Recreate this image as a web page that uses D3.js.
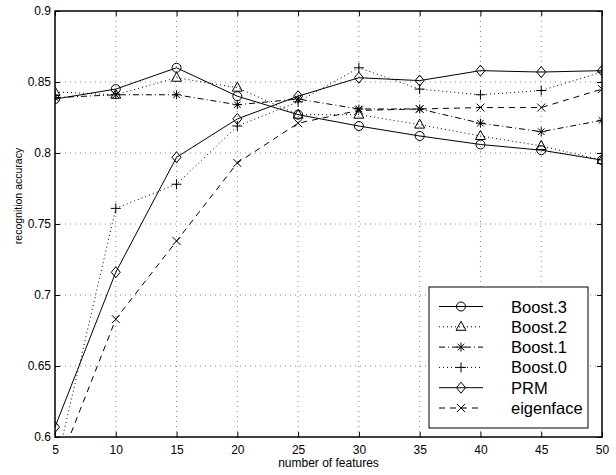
<!DOCTYPE html>
<html>
<head>
<meta charset="utf-8">
<script src="https://cdn.jsdelivr.net/npm/d3@7"></script>
<style>
  body { margin: 0; background: #fff; }
  svg text { font-family: "Liberation Sans", Arial, sans-serif; fill: #000; }
</style>
</head>
<body>
<svg class="svg" width="616" height="475"></svg>
<script>
// number of features
let features = [5, 10, 15, 20, 25, 30, 35, 40, 45, 50];

let boost3 = [0.838, 0.845, 0.860, 0.840, 0.827, 0.819, 0.812, 0.806, 0.802, 0.795];
let boost2 = [0.843, 0.841, 0.853, 0.846, 0.827, 0.827, 0.820, 0.812, 0.805, 0.795];
let boost1 = [0.839, 0.841, 0.841, 0.834, 0.838, 0.831, 0.831, 0.821, 0.815, 0.823];
let boost0 = [0.577, 0.761, 0.778, 0.819, 0.836, 0.860, 0.845, 0.841, 0.844, 0.857];
let prm = [0.607, 0.716, 0.797, 0.824, 0.840, 0.853, 0.851, 0.858, 0.857, 0.858];
let eigenface = [0.574, 0.683, 0.738, 0.793, 0.821, 0.830, 0.831, 0.832, 0.832, 0.845];

let seriesNames = ['Boost.3', 'Boost.2', 'Boost.1', 'Boost.0', 'PRM', 'eigenface'];
let seriesVals = [boost3, boost2, boost1, boost0, prm, eigenface];
let markers = ['circle', 'triangle', 'star', 'plus', 'diamond', 'cross'];
let dashes = [null, '1,3', '6,3,1,3', '1,3', null, '6,5'];

let xTicks = [5, 10, 15, 20, 25, 30, 35, 40, 45, 50];
let yTicks = [0.6, 0.65, 0.7, 0.75, 0.8, 0.85, 0.9];

let pLeft = 55, pRight = 602, pTop = 11, pBottom = 437;

let svg = d3.select('.svg');
let x = d3.scaleLinear().domain([5, 50]).range([pLeft, pRight]);
let y = d3.scaleLinear().domain([0.6, 0.9]).range([pBottom, pTop]);

svg.append('clipPath').attr('id', 'clip')
    .append('rect').attr('x', pLeft).attr('y', pTop)
    .attr('width', pRight - pLeft).attr('height', pBottom - pTop);

// grid
let grid = svg.append('g');
xTicks.slice(1, -1).forEach(function (t) {
    grid.append('line').attr('x1', x(t)).attr('x2', x(t)).attr('y1', pTop).attr('y2', pBottom)
        .attr('stroke', '#888').attr('stroke-width', 1).attr('stroke-dasharray', '1,4');
});
yTicks.slice(1, -1).forEach(function (t) {
    grid.append('line').attr('x1', pLeft).attr('x2', pRight).attr('y1', y(t)).attr('y2', y(t))
        .attr('stroke', '#888').attr('stroke-width', 1).attr('stroke-dasharray', '1,4');
});

// axes (ticks inward, box all round)
let tickLen = 5;
svg.append('g').attr('transform', 'translate(0,' + pBottom + ')')
    .call(d3.axisBottom(x).tickValues(xTicks).tickSizeInner(-tickLen).tickSizeOuter(0).tickPadding(8))
    .call(g => g.select('.domain').remove());
svg.append('g').attr('transform', 'translate(0,' + pTop + ')')
    .call(d3.axisTop(x).tickValues(xTicks).tickSizeInner(-tickLen).tickSizeOuter(0).tickFormat(''))
    .call(g => g.select('.domain').remove());
svg.append('g').attr('transform', 'translate(' + pLeft + ',0)')
    .call(d3.axisLeft(y).tickValues(yTicks).tickSizeInner(-tickLen).tickSizeOuter(0).tickPadding(4)
        .tickFormat(d3.format('')))
    .call(g => g.select('.domain').remove());
svg.append('g').attr('transform', 'translate(' + pRight + ',0)')
    .call(d3.axisRight(y).tickValues(yTicks).tickSizeInner(-tickLen).tickSizeOuter(0).tickFormat(''))
    .call(g => g.select('.domain').remove());
svg.selectAll('.tick line').attr('stroke', '#000');
svg.selectAll('.tick text').style('font-size', '12px').attr('fill', '#000');

svg.append('rect').attr('x', pLeft).attr('y', pTop).attr('width', pRight - pLeft).attr('height', pBottom - pTop)
    .attr('fill', 'none').attr('stroke', '#000').attr('stroke-width', 1.5);

// marker drawing
function drawMarker(g, type, cx, cy) {
    let s = 4;
    if (type === 'circle') {
        g.append('circle').attr('cx', cx).attr('cy', cy).attr('r', 4.5)
            .attr('fill', 'none').attr('stroke', '#000');
    } else if (type === 'triangle') {
        g.append('path').attr('d', 'M' + cx + ',' + (cy - 5.5) + 'L' + (cx + 5) + ',' + (cy + 3.5) + 'L' + (cx - 5) + ',' + (cy + 3.5) + 'Z')
            .attr('fill', 'none').attr('stroke', '#000');
    } else if (type === 'diamond') {
        g.append('path').attr('d', 'M' + cx + ',' + (cy - 5.5) + 'L' + (cx + 4.5) + ',' + cy + 'L' + cx + ',' + (cy + 5.5) + 'L' + (cx - 4.5) + ',' + cy + 'Z')
            .attr('fill', 'none').attr('stroke', '#000');
    } else if (type === 'plus') {
        g.append('path').attr('d', 'M' + (cx - 5) + ',' + cy + 'H' + (cx + 5) + 'M' + cx + ',' + (cy - 5) + 'V' + (cy + 5))
            .attr('stroke', '#000');
    } else if (type === 'cross') {
        g.append('path').attr('d', 'M' + (cx - s) + ',' + (cy - s) + 'L' + (cx + s) + ',' + (cy + s) + 'M' + (cx - s) + ',' + (cy + s) + 'L' + (cx + s) + ',' + (cy - s))
            .attr('stroke', '#000');
    } else if (type === 'star') {
        g.append('path').attr('d', 'M' + (cx - 4.5) + ',' + cy + 'H' + (cx + 4.5) + 'M' + cx + ',' + (cy - 4.5) + 'V' + (cy + 4.5)
            + 'M' + (cx - 3.3) + ',' + (cy - 3.3) + 'L' + (cx + 3.3) + ',' + (cy + 3.3) + 'M' + (cx - 3.3) + ',' + (cy + 3.3) + 'L' + (cx + 3.3) + ',' + (cy - 3.3))
            .attr('stroke', '#000');
    }
}

// series
let plot = svg.append('g').attr('clip-path', 'url(#clip)');
let line = d3.line().x((d, i) => x(features[i])).y(d => y(d));
for (let k = 0; k < seriesVals.length; k++) {
    plot.append('path').datum(seriesVals[k]).attr('d', line)
        .attr('fill', 'none').attr('stroke', '#000').attr('stroke-width', 1)
        .attr('stroke-dasharray', dashes[k]);
    for (let i = 0; i < features.length; i++) {
        drawMarker(plot, markers[k], x(features[i]), y(seriesVals[k][i]));
    }
}

// legend
let lg = svg.append('g');
lg.append('rect').attr('x', 429).attr('y', 287).attr('width', 159).attr('height', 141)
    .attr('fill', '#fff').attr('stroke', '#000').attr('stroke-width', 1);
for (let k = 0; k < seriesNames.length; k++) {
    let cy = 306.5 + k * 20.3;
    lg.append('line').attr('x1', 439).attr('x2', 483).attr('y1', cy).attr('y2', cy)
        .attr('stroke', '#000').attr('stroke-dasharray', dashes[k]);
    drawMarker(lg, markers[k], 461, cy);
    lg.append('text').attr('x', 511).attr('y', cy + 6).text(seriesNames[k])
        .style('font-size', '16.5px');
}

// axis labels
svg.append('text').attr('x', (pLeft + pRight) / 2).attr('y', 467).attr('text-anchor', 'middle')
    .style('font-size', '12px').text('number of features');
svg.append('text').attr('transform', 'translate(22,196) rotate(-90)').attr('text-anchor', 'middle')
    .style('font-size', '10.5px').text('recognition accuracy');
</script>
</body>
</html>
